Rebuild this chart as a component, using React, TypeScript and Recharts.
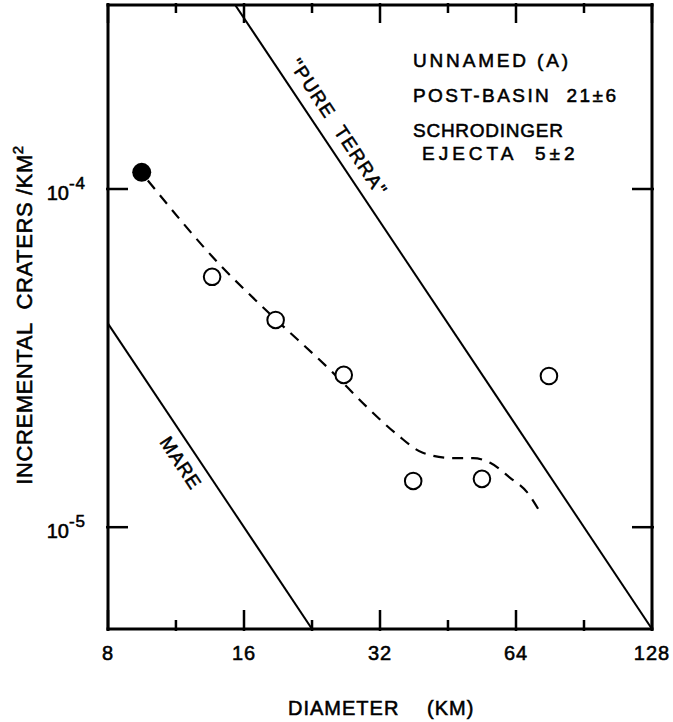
import { ComposedChart, Line, Scatter, XAxis, YAxis, ReferenceDot } from 'recharts';

// crater diameter (km) vs incremental crater density (craters / km^2)
const X_TICKS = [8, 11.31, 16, 22.63, 32, 45.25, 64, 90.51, 128];
const X_MAJOR = [8, 16, 32, 64, 128];
const Y_TICKS = [1e-5, 1e-4];
const Y_LABELS = ['-5', '-4'];

// reference production curves
const TERRA_D = [8, 128];
const TERRA_N = [1.28e-3, 5e-6];
const MARE_D = [8, 32];
const MARE_N = [4e-5, 2.5e-6];

// counts
const FILLED_D = [9.5];
const FILLED_N = [1.12e-4];
const OPEN_D = [13.6, 18.8, 26.6, 37.9, 53.8, 75.7];
const OPEN_N = [5.5e-5, 4.1e-5, 2.82e-5, 1.37e-5, 1.39e-5, 2.8e-5];

// hand-drawn fit through the counts
const CURVE_D = [9.8, 14.2, 18.1, 25.2, 29.9, 34.9, 39.8, 46.4, 51.4, 56.1, 62.1, 67.7, 72.3];
const CURVE_N = [1.06e-4, 5.94e-5, 4.32e-5, 2.86e-5, 2.27e-5, 1.88e-5, 1.66e-5, 1.6e-5, 1.6e-5, 1.55e-5, 1.4e-5, 1.27e-5, 1.11e-5];

const NOTE_LINES = ['UNNAMED (A)', 'POST-BASIN  21±6', 'SCHRODINGER', 'EJECTA  5±2'];

const pairs = (d: number[], n: number[]) => d.map((v, i) => ({ d: v, n: n[i] }));

const terra = pairs(TERRA_D, TERRA_N);
const mare = pairs(MARE_D, MARE_N);
const filled = pairs(FILLED_D, FILLED_N);
const open = pairs(OPEN_D, OPEN_N);
const curve = pairs(CURVE_D, CURVE_N);

const FONT = '"Liberation Sans", Arial, sans-serif';
const INK = '#000';
const SLOPE_DEG = 56.4;
// lettering is pen-drawn, so give the glyphs a little extra weight
const textInk = { fill: INK, stroke: INK, strokeWidth: 0.55 };
const pre = { whiteSpace: 'pre' as const };

const BottomTick = (p: any) => {
  const major = X_MAJOR.includes(p.payload.value);
  return (
    <g>
      <line x1={p.x} x2={p.x} y1={p.y} y2={p.y - (major ? 21 : 11)} stroke={INK} strokeWidth={2.5} />
      {major && (
        <text x={p.x} y={p.y + 29} textAnchor="middle" fontSize={20} fontFamily={FONT} letterSpacing={1} {...textInk}>
          {p.payload.value}
        </text>
      )}
    </g>
  );
};

const TopTick = (p: any) => {
  const major = X_MAJOR.includes(p.payload.value);
  return <line x1={p.x} x2={p.x} y1={p.y} y2={p.y + (major ? 20 : 10)} stroke={INK} strokeWidth={2.5} />;
};

const LeftTick = (p: any) => (
  <g>
    <line x1={p.x} x2={p.x + 22} y1={p.y} y2={p.y} stroke={INK} strokeWidth={2.5} />
    <text x={p.x - 20} y={p.y + 11} textAnchor="end" fontSize={20} fontFamily={FONT} {...textInk}>
      10
      <tspan dy={-11} fontSize={17} letterSpacing={1}>
        {Y_LABELS[Y_TICKS.indexOf(p.payload.value)]}
      </tspan>
    </text>
  </g>
);

const RightTick = (p: any) => <line x1={p.x} x2={p.x - 22} y1={p.y} y2={p.y} stroke={INK} strokeWidth={2.5} />;

// rotated caption drawn parallel to a production line, offset to one side
const slopeLabel = (text: string, offset: number, spacing: number) => (p: any) => (
  <g transform={`translate(${p.cx},${p.cy}) rotate(${SLOPE_DEG})`}>
    <text
      x={0}
      y={offset}
      textAnchor="middle"
      dominantBaseline="central"
      fontSize={19}
      fontFamily={FONT}
      letterSpacing={spacing}
      {...textInk}
      style={pre}
    >
      {text}
    </text>
  </g>
);

const axisLine = { stroke: INK, strokeWidth: 3, strokeLinecap: 'square' as const };

export default function App() {
  return (
    <div style={{ position: 'absolute', left: 0, top: 0, width: 673, height: 722, background: '#fff' }}>
      <ComposedChart width={673} height={722} margin={{ top: 4, right: 20, bottom: 33, left: 8 }}>
        <XAxis
          dataKey="d"
          type="number"
          scale="log"
          domain={[8, 128]}
          ticks={X_TICKS}
          interval={0}
          allowDataOverflow
          height={60}
          tickSize={0}
          tickLine={false}
          axisLine={axisLine}
          tick={BottomTick}
        />
        <XAxis
          xAxisId="top"
          orientation="top"
          dataKey="d"
          type="number"
          scale="log"
          domain={[8, 128]}
          ticks={X_TICKS}
          interval={0}
          allowDataOverflow
          height={1}
          tickSize={0}
          tickLine={false}
          axisLine={axisLine}
          tick={TopTick}
        />
        <YAxis
          dataKey="n"
          type="number"
          scale="log"
          domain={[5e-6, 3.5e-4]}
          ticks={Y_TICKS}
          interval={0}
          allowDataOverflow
          width={100}
          tickSize={0}
          tickLine={false}
          axisLine={axisLine}
          tick={LeftTick}
        />
        <YAxis
          yAxisId="right"
          orientation="right"
          dataKey="n"
          type="number"
          scale="log"
          domain={[5e-6, 3.5e-4]}
          ticks={Y_TICKS}
          interval={0}
          allowDataOverflow
          width={1}
          tickSize={0}
          tickLine={false}
          axisLine={axisLine}
          tick={RightTick}
        />

        <Line data={terra} dataKey="n" stroke={INK} strokeWidth={2} dot={false} isAnimationActive={false} />
        <Line data={mare} dataKey="n" stroke={INK} strokeWidth={2} dot={false} isAnimationActive={false} />
        <Line
          data={curve}
          dataKey="n"
          type="monotone"
          stroke={INK}
          strokeWidth={2.2}
          strokeDasharray="11 8"
          dot={false}
          isAnimationActive={false}
        />
        <Scatter
          data={open}
          dataKey="n"
          isAnimationActive={false}
          shape={(p: any) => <circle cx={p.cx} cy={p.cy} r={8.3} fill="#fff" stroke={INK} strokeWidth={2} />}
        />
        <Scatter
          data={filled}
          dataKey="n"
          isAnimationActive={false}
          shape={(p: any) => <circle cx={p.cx} cy={p.cy} r={9.5} fill={INK} />}
        />

        <ReferenceDot x={24} y={1.42e-4} r={0} shape={slopeLabel('"PURE  TERRA"', -18, 1.5)} />
        <ReferenceDot x={12.46} y={1.65e-5} r={0} shape={slopeLabel('MARE', 17, 1)} />

        <g fontFamily={FONT} fontSize={19} {...textInk}>
          <text x={413} y={67} textLength={155} lengthAdjust="spacing" style={pre}>{NOTE_LINES[0]}</text>
          <text x={413} y={102} textLength={203} lengthAdjust="spacing" style={pre}>{NOTE_LINES[1]}</text>
          <text x={413} y={137} textLength={150} lengthAdjust="spacing" style={pre}>{NOTE_LINES[2]}</text>
          <text x={422} y={160} letterSpacing={4} style={pre}>{NOTE_LINES[3]}</text>
        </g>

        <text x={288} y={715} fontFamily={FONT} fontSize={20} letterSpacing={1} {...textInk}>
          DIAMETER
          <tspan x={427}>(KM)</tspan>
        </text>
        <text
          transform="translate(32,315) rotate(-90)"
          textAnchor="middle"
          fontFamily={FONT}
          fontSize={22}
          letterSpacing={0.6}
          {...textInk}
          style={pre}
        >
          INCREMENTAL  CRATERS /KM
          <tspan dy={-9} fontSize={15}>2</tspan>
        </text>
      </ComposedChart>
    </div>
  );
}
